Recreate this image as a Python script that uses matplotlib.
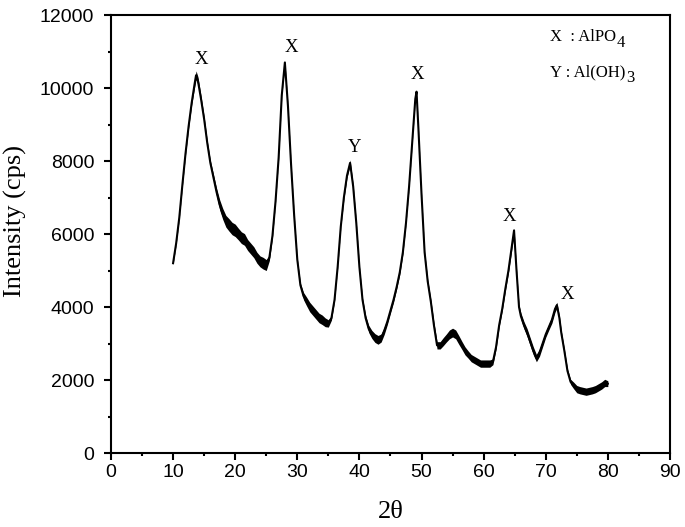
import matplotlib
matplotlib.use("Agg")
import matplotlib.pyplot as plt
from matplotlib.ticker import MultipleLocator

# ---- data ----
two_theta = [10.0, 10.5, 11.0, 11.5, 12.0, 12.5, 13.0, 13.5, 13.7, 14.0, 14.5, 15.0, 15.5, 16.0,
             16.5, 17.0, 17.5, 18.0, 18.5, 19.0, 19.5, 20.0, 20.5, 21.0, 21.5, 22.0, 22.5, 23.0,
             23.5, 24.0, 24.5, 25.0, 25.5, 26.0, 26.5, 27.0, 27.5, 28.0, 28.5, 29.0, 29.5, 30.0,
             30.5, 31.0, 31.5, 32.0, 32.5, 33.0, 33.5, 34.0, 34.5, 35.0, 35.5, 36.0, 36.5, 37.0,
             37.5, 38.0, 38.5, 39.0, 39.5, 40.0, 40.5, 41.0, 41.5, 42.0, 42.5, 43.0, 43.5, 44.0,
             44.5, 45.0, 45.5, 46.0, 46.5, 47.0, 47.5, 48.0, 48.5, 49.0, 49.2, 49.5, 50.0, 50.5,
             51.0, 51.5, 52.0, 52.5, 53.0, 53.5, 54.0, 54.5, 55.0, 55.5, 56.0, 56.5, 57.0, 57.5,
             58.0, 58.5, 59.0, 59.5, 60.0, 60.5, 61.0, 61.5, 62.0, 62.5, 63.0, 63.5, 64.0, 64.5,
             64.9, 65.3, 65.7, 66.0, 66.5, 67.0, 67.5, 68.0, 68.5, 69.0, 69.5, 70.0, 70.5, 71.0,
             71.5, 71.8, 72.2, 72.5, 73.0, 73.5, 74.0, 74.5, 75.0, 75.5, 76.0, 76.5, 77.0, 77.5,
             78.0, 78.5, 79.0, 79.5, 80.0]
intensity = [5200, 5750, 6450, 7350, 8200, 8950, 9600, 10150, 10350, 10200, 9700, 9150, 8500, 7950,
             7550, 7150, 6800, 6550, 6350, 6250, 6150, 6100, 6000, 5900, 5850, 5700, 5600, 5500,
             5350, 5250, 5200, 5150, 5350, 5950, 6900, 8100, 9800, 10700, 9500, 7900, 6500, 5300,
             4600, 4300, 4150, 4000, 3900, 3800, 3700, 3650, 3580, 3550, 3700, 4200, 5100, 6200,
             7000, 7600, 7950, 7300, 6300, 5100, 4200, 3700, 3400, 3250, 3150, 3100, 3150, 3350,
             3600, 3900, 4200, 4550, 4950, 5500, 6300, 7300, 8500, 9700, 9900, 8900, 7100, 5500,
             4700, 4150, 3500, 2950, 2950, 3050, 3150, 3250, 3300, 3250, 3100, 2950, 2800, 2700,
             2600, 2550, 2500, 2450, 2450, 2450, 2450, 2500, 2900, 3500, 3950, 4500, 5000, 5600,
             6100, 5000, 4000, 3750, 3500, 3300, 3050, 2800, 2600, 2750, 3000, 3250, 3450, 3650,
             3950, 4050, 3700, 3300, 2800, 2250, 1950, 1850, 1750, 1720, 1700, 1680, 1700, 1720,
             1750, 1800, 1850, 1920, 1900]
# half-width of the noisy band around the trace (cps)
noise_band = [30, 30, 30, 40, 40, 50, 60, 100, 120, 110, 90, 70, 60, 70,
              90, 110, 140, 150, 160, 170, 170, 170, 160, 160, 160, 150, 150, 150,
              150, 150, 160, 150, 80, 50, 30, 30, 30, 50, 30, 30, 30, 30,
              60, 100, 120, 130, 130, 130, 130, 130, 120, 100, 60, 30, 30, 30,
              50, 60, 80, 50, 30, 30, 50, 80, 100, 110, 120, 120, 110, 100,
              80, 70, 70, 60, 60, 50, 30, 30, 30, 30, 30, 30, 30, 30,
              50, 60, 80, 100, 100, 110, 110, 120, 120, 120, 120, 110, 110, 100,
              100, 100, 100, 100, 100, 100, 100, 80, 60, 50, 50, 60, 60, 70,
              50, 50, 60, 90, 100, 110, 110, 110, 100, 100, 90, 80, 80, 90,
              90, 80, 60, 60, 50, 60, 70, 90, 100, 100, 100, 100, 100, 100,
              100, 100, 100, 100, 80]

peak_labels = ["X", "X", "Y", "X", "X", "X"]
peak_x = [14.6, 29.0, 39.3, 49.4, 64.2, 73.5]
peak_y = [10770, 11100, 8360, 10360, 6490, 4330]

legend_main = ["X  : AlPO", "Y : Al(OH)"]
legend_sub = ["4", "3"]

x_ticks = [0, 10, 20, 30, 40, 50, 60, 70, 80, 90]
y_ticks = [0, 2000, 4000, 6000, 8000, 10000, 12000]

fig = plt.figure(figsize=(6.85, 5.27), dpi=100)
ax = fig.add_axes([0.162, 0.1404, 0.816, 0.8311])

lo = [v - b for v, b in zip(intensity, noise_band)]
hi = [v + b for v, b in zip(intensity, noise_band)]
ax.fill_between(two_theta, lo, hi, color="black", lw=0)
ax.plot(two_theta, intensity, color="black", lw=1.5)

for lab, px, py in zip(peak_labels, peak_x, peak_y):
    ax.text(px, py, lab, family="Liberation Serif", fontsize=13.5,
            ha="center", va="center")

legend_y = [11280, 10320]
for main, sub, ly in zip(legend_main, legend_sub, legend_y):
    t = ax.text(70.7, ly, main, family="Liberation Serif",
                fontsize=12, ha="left", va="baseline")
    ax.annotate(sub, xy=(1, 0), xycoords=t,
                xytext=(0.5, -4), textcoords="offset points",
                family="Liberation Serif", fontsize=12, ha="left", va="bottom")

ax.set_xlim(0, 90)
ax.set_ylim(0, 12000)
ax.set_xticks(x_ticks)
ax.set_yticks(y_ticks)
ax.xaxis.set_minor_locator(MultipleLocator(5))
ax.yaxis.set_minor_locator(MultipleLocator(1000))
ax.tick_params(which="major", direction="out", length=5, width=1.5,
               labelsize=14, top=False, right=False)
ax.tick_params(which="minor", direction="out", length=2.5, width=1.5,
               top=False, right=False)
ax.tick_params(axis="y", which="major", pad=7)
ax.tick_params(axis="x", which="major", pad=3)
for lab in ax.get_xticklabels() + ax.get_yticklabels():
    lab.set_family("Liberation Sans")
for s in ax.spines.values():
    s.set_linewidth(1.5)

ax.set_xlabel("2θ", family="Liberation Serif", fontsize=19, labelpad=14)
ax.set_ylabel("Intensity (cps)", family="Liberation Serif", fontsize=19)
ax.yaxis.set_label_coords(-0.15, 0.53)

fig.savefig("out.png", dpi=100)
